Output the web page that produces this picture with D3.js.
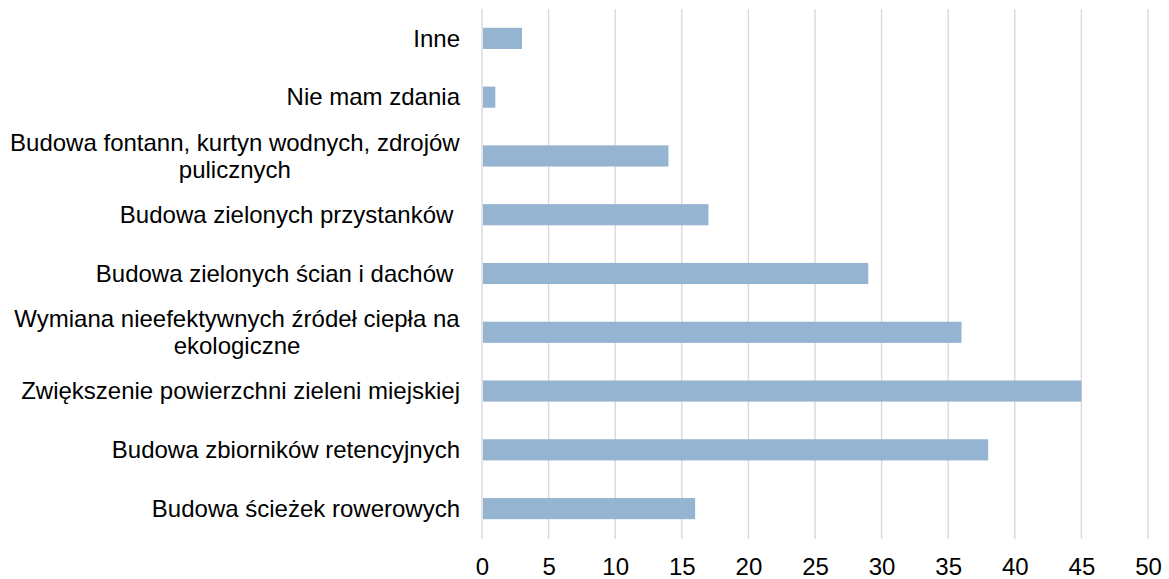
<!DOCTYPE html>
<html>
<head>
<meta charset="utf-8">
<script src="https://cdn.jsdelivr.net/npm/d3@7"></script>
<style>
  html, body { margin: 0; padding: 0; background: #fff; }
  svg text { font-family: "Liberation Sans", Arial, sans-serif; fill: #000; white-space: pre; }
</style>
</head>
<body>
<svg id="chart" width="1169" height="579"></svg>
<script>
// Survey answers, listed top to bottom
const categories = [
  "Inne",
  "Nie mam zdania",
  "Budowa fontann, kurtyn wodnych, zdrojów pulicznych",
  "Budowa zielonych przystanków ",
  "Budowa zielonych ścian i dachów ",
  "Wymiana nieefektywnych źródeł ciepła na ekologiczne",
  "Zwiększenie powierzchni zieleni miejskiej",
  "Budowa zbiorników retencyjnych",
  "Budowa ścieżek rowerowych"
];
const values = [3, 1, 14, 17, 29, 36, 45, 38, 16];
const xTicks = [0, 5, 10, 15, 20, 25, 30, 35, 40, 45, 50];

const svg = d3.select("#chart");
const margin = { left: 482, right: 21, top: 9, bottom: 41 };
const width = 1169, height = 579;
const fontSize = 24;

const x = d3.scaleLinear().domain([0, 50]).range([margin.left, width - margin.right]);
const y = d3.scaleBand().domain(categories)
  .range([margin.top, height - margin.bottom])
  .paddingInner(0.64).paddingOuter(0.32);

// vertical gridlines
svg.append("g").selectAll("line").data(xTicks).join("line")
  .attr("x1", d => x(d)).attr("x2", d => x(d))
  .attr("y1", margin.top).attr("y2", height - margin.bottom + 1)
  .attr("stroke", "#d9d9d9").attr("stroke-width", 1.4);

// bars
svg.append("g").selectAll("rect").data(values).join("rect")
  .attr("x", x(0) + 1)
  .attr("y", (d, i) => y(categories[i]))
  .attr("width", d => x(d) - x(0) - 1)
  .attr("height", y.bandwidth())
  .attr("fill", "#95b4d1");

// x axis tick labels
const xAxis = d3.axisBottom(x).tickValues(xTicks).tickSize(0).tickPadding(0);
const gx = svg.append("g").attr("transform", `translate(0, ${height - margin.bottom})`).call(xAxis);
gx.select(".domain").remove();
gx.selectAll("text")
  .attr("dy", null).attr("y", 37)
  .style("font-size", fontSize + "px")
  .style("font-family", "'Liberation Sans', Arial, sans-serif")
  .attr("fill", "#000");

// category labels, wrapped to fit the left margin
const maxW = 456;
const lineH = 27;
const labels = svg.append("g");
categories.forEach(cat => {
  const t = labels.append("text")
    .attr("text-anchor", "end")
    .style("font-size", fontSize + "px");
  const words = cat.split(" ");
  const lines = [];
  let cur = "";
  const probe = svg.append("text").style("font-size", fontSize + "px");
  words.forEach(w => {
    const test = cur === "" ? w : cur + " " + w;
    probe.text(test.trimEnd());
    if (probe.node().getComputedTextLength() > maxW && cur !== "") {
      lines.push(cur);
      cur = w;
    } else {
      cur = test;
    }
  });
  lines.push(cur);
  probe.remove();
  const cy = y(cat) + y.bandwidth() / 2;
  const startY = cy - (lines.length - 1) * lineH / 2;
  lines.forEach((ln, k) => {
    t.append("tspan")
      .attr("x", 460)
      .attr("y", startY + k * lineH)
      .attr("dy", "0.34em")
      .attr("text-anchor", lines.length > 1 ? "middle" : "end")
      .text(ln);
  });
  if (lines.length > 1) {
    // multi-line labels are centred on their widest line, right-aligned to the axis
    const bb = t.node().getBBox();
    t.selectAll("tspan").attr("x", 460 - bb.width / 2);
  }
});
</script>
</body>
</html>
